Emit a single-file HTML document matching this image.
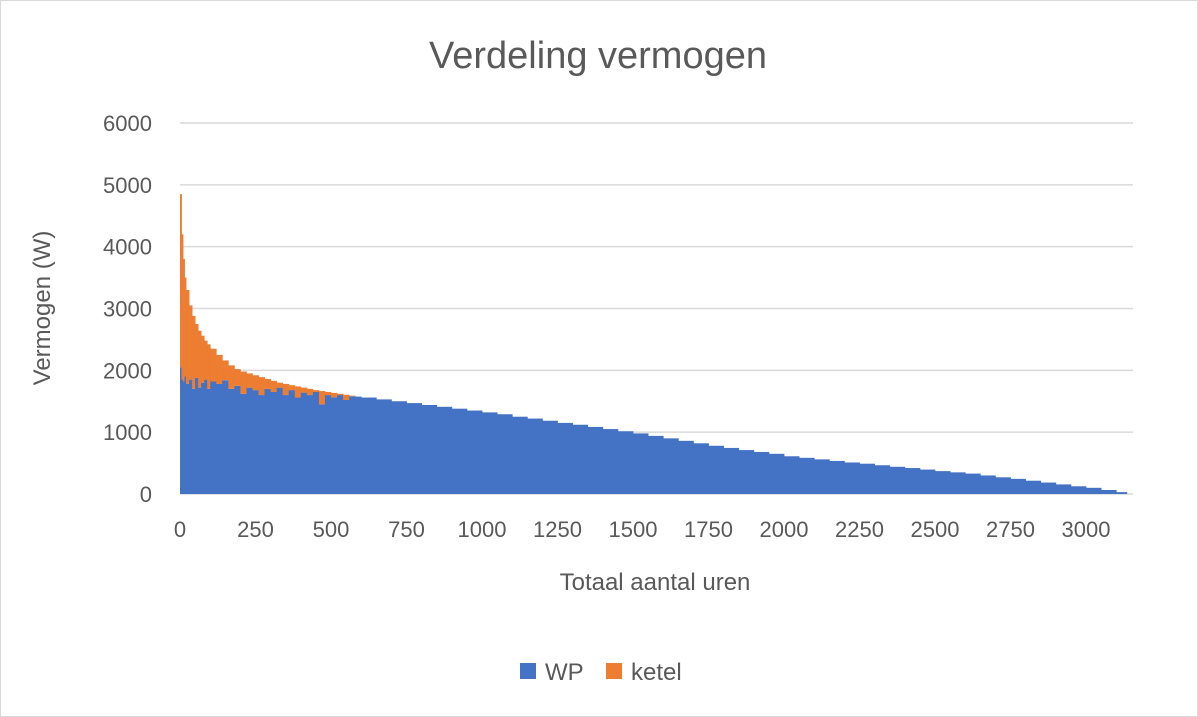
<!DOCTYPE html>
<html><head><meta charset="utf-8"><style>
body{margin:0;background:#fff;}
svg{display:block;font-family:"Liberation Sans",sans-serif;}
</style></head><body>
<svg id="chart" width="1198" height="717">
<rect x="0.5" y="0.5" width="1197" height="716" fill="#fff" stroke="#d9d9d9"/>
<text x="598" y="68" font-size="38" fill="#595959" text-anchor="middle">Verdeling vermogen</text>
<g id="grid"></g><g id="bars"></g><g id="yticks"></g><g id="xticks"></g>
<text transform="translate(50,308) rotate(-90)" font-size="24" fill="#595959" text-anchor="middle">Vermogen (W)</text>
<text x="655" y="590" font-size="24" fill="#595959" text-anchor="middle">Totaal aantal uren</text>
<g>
<rect x="520" y="663" width="16" height="16" fill="#4472c4"/>
<text x="545" y="680" font-size="24" fill="#595959">WP</text>
<rect x="606" y="663" width="16" height="16" fill="#ed7d31"/>
<text x="631" y="680" font-size="24" fill="#595959">ketel</text>
</g>
</svg>
<script>
const hours=[0,5,10,15,20,30,40,50,60,70,80,90,100,120,140,160,180,200,220,240,260,280,300,320,340,360,380,400,420,440,460,480,500,520,540,560,580,600,650,700,750,800,850,900,950,1000,1050,1100,1150,1200,1250,1300,1350,1400,1450,1500,1550,1600,1650,1700,1750,1800,1850,1900,1950,2000,2050,2100,2150,2200,2250,2300,2350,2400,2450,2500,2550,2600,2650,2700,2750,2800,2850,2900,2950,3000,3050,3100,3135];
const wp=[2050,1850,1820,1900,1780,1850,1700,1880,1720,1800,1850,1700,1820,1780,1840,1700,1750,1620,1720,1680,1600,1700,1650,1720,1600,1680,1560,1640,1600,1650,1450,1600,1560,1600,1520,1580,1575,1560,1530,1500,1470,1440,1410,1380,1350,1320,1290,1250,1220,1185,1150,1120,1085,1050,1015,980,940,900,860,820,780,745,710,680,650,610,585,560,535,510,490,465,440,420,395,370,350,330,300,270,245,215,185,155,125,100,65,30];
const ketel=[2800,2350,1980,1600,1520,1200,1180,870,920,760,630,720,530,470,320,380,270,360,230,240,290,160,180,80,180,80,180,80,100,30,215,50,75,20,85,10,0,0,0,0,0,0,0,0,0,0,0,0,0,0,0,0,0,0,0,0,0,0,0,0,0,0,0,0,0,0,0,0,0,0,0,0,0,0,0,0,0,0,0,0,0,0,0,0,0,0,0,0];
const yTicks=[0,1000,2000,3000,4000,5000,6000];
const xTicks=[0,250,500,750,1000,1250,1500,1750,2000,2250,2500,2750,3000];
const NS="http://www.w3.org/2000/svg";
const X0=180,X1=1133,Y0=494,Y6=123;
const xs=h=>X0+h*(906/3000);
const ys=v=>Y0-v*(Y0-Y6)/6000;
function mk(tag,attrs,parent){const e=document.createElementNS(NS,tag);for(const k in attrs)e.setAttribute(k,attrs[k]);parent.appendChild(e);return e;}
const grid=document.getElementById('grid'),bars=document.getElementById('bars'),yt=document.getElementById('yticks'),xt=document.getElementById('xticks');
yTicks.forEach(v=>{
 const l=mk('line',{x1:X0,x2:X1,y1:ys(v),y2:ys(v),stroke:'#d9d9d9','stroke-width':1.5},grid);
 
 
 const t=mk('text',{x:152,y:ys(v)+8,'font-size':22,fill:'#595959','text-anchor':'end'},yt);
 t.textContent=v;
 
 
});
xTicks.forEach(v=>{
 const t=mk('text',{x:xs(v),y:537,'font-size':22,fill:'#595959','text-anchor':'middle'},xt);
 t.textContent=v;
 
 
});
for(let i=0;i<wp.length;i++){
 const xa=xs(hours[i]),xb=xs(hours[i+1]);
 const b=mk('rect',{x:xa,y:ys(wp[i]),width:xb-xa+0.4,height:Y0-ys(wp[i]),fill:'#4472c4'},bars);
 
 
 if(ketel[i]>0){
  const k=mk('rect',{x:xa,y:ys(wp[i]+ketel[i]),width:xb-xa+0.4,height:ys(wp[i])-ys(wp[i]+ketel[i]),fill:'#ed7d31'},bars);
  
  
 }
}
</script>
</body></html>
